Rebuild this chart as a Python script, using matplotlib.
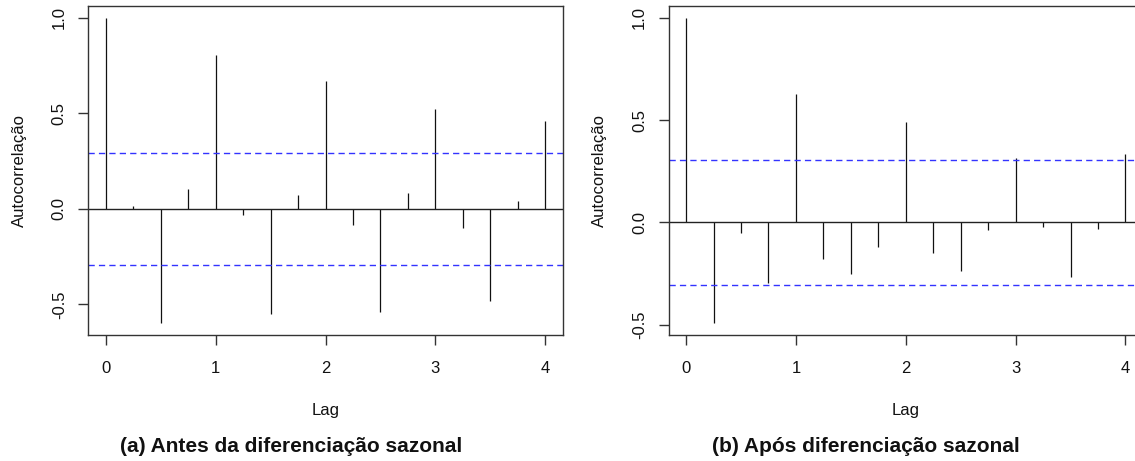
import numpy as np
import matplotlib
matplotlib.use("Agg")
import matplotlib.pyplot as plt

plt.rcParams['font.family'] = ['Liberation Sans', 'DejaVu Sans']

# Data
lags = [0, 0.25, 0.5, 0.75, 1.0, 1.25, 1.5, 1.75, 2.0, 2.25, 2.5, 2.75, 3.0, 3.25, 3.5, 3.75, 4.0]
acf_before = [1.0, 0.017, -0.596, 0.105, 0.808, -0.03, -0.549, 0.071, 0.671, -0.085,
              -0.540, 0.085, 0.523, -0.099, -0.481, 0.040, 0.458]
acf_after = [1.0, -0.491, -0.054, -0.295, 0.630, -0.181, -0.251, -0.122, 0.489, -0.148,
             -0.237, -0.038, 0.316, -0.024, -0.268, -0.031, 0.333]
ci_before = 0.292
ci_after = 0.306
xticks = [0, 1, 2, 3, 4]
yticks = [-0.5, 0.0, 0.5, 1.0]
ytick_labels = ["-0.5", "0.0", "0.5", "1.0"]
ylabel = "Autocorrelação"
xlabel = "Lag"
captions = ["(a) Antes da diferenciação sazonal", "(b) Após diferenciação sazonal"]

W, H = 1135, 461
fig = plt.figure(figsize=(W / 100, H / 100), dpi=100)

box_top, box_bot = 5.7, 335.0
panels = [
    (88.3, acf_before, ci_before, 291, captions[0]),
    (668.5, acf_after, ci_after, 866, captions[1]),
]
ax_w = 474.5
for x0, acf, ci, cap_x, cap in panels:
    ax = fig.add_axes([x0 / W, 1 - box_bot / H, ax_w / W, (box_bot - box_top) / H])
    ax.vlines(lags, 0, acf, color='#111111', lw=0.9)
    ax.axhline(0, color='#222222', lw=1.0)
    ax.axhline(ci, color='#3333ff', lw=1.0, ls=(0, (4.5, 3)))
    ax.axhline(-ci, color='#3333ff', lw=1.0, ls=(0, (4.5, 3)))
    lo = min(min(acf), -ci)
    hi = max(max(acf), ci)
    span = hi - lo
    ax.set_ylim(lo - 0.04 * span, hi + 0.04 * span)
    ax.set_xlim(-0.16, 4.16)
    ax.set_xticks(xticks)
    ax.set_xticklabels([str(t) for t in xticks])
    ax.set_yticks(yticks)
    ax.set_yticklabels(ytick_labels, rotation=90, va='center', ha='right')
    for s in ax.spines.values():
        s.set_color('#333333')
        s.set_linewidth(1.0)
    ax.tick_params(axis='both', length=7.5, width=1.0, color='#333333', labelsize=12,
                   labelcolor='#111111')
    ax.tick_params(axis='x', pad=11)
    ax.tick_params(axis='y', pad=8)
    ax.set_xlabel(xlabel, fontsize=12, color='#111111')
    ax.xaxis.set_label_coords(0.5, -0.206)
    ax.set_ylabel(ylabel, fontsize=12, color='#111111', va='center')
    ax.yaxis.set_label_coords(-0.145, 0.5)
    fig.text(cap_x / W, 1 - 451.5 / H, cap,
             ha='center', va='baseline', fontsize=15, fontweight='bold', color='#111111')

fig.savefig('out.png', dpi=100)
